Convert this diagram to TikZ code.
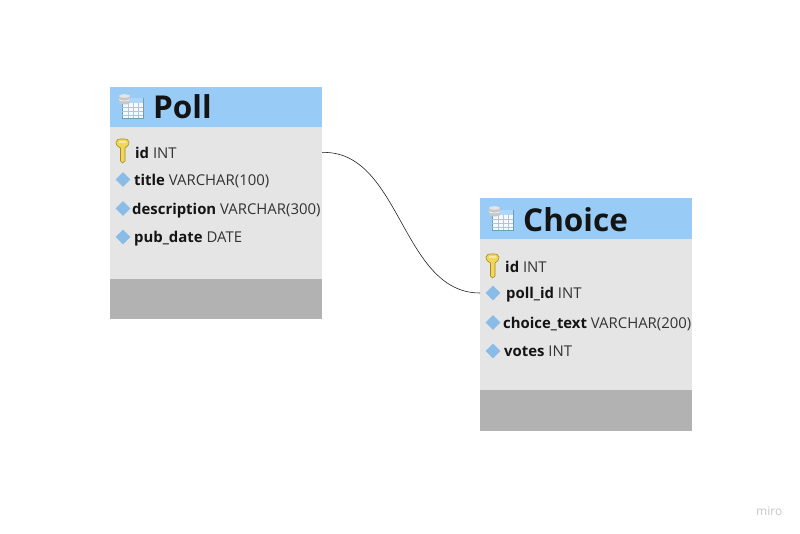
\documentclass[tikz,border=0pt]{standalone}
\usepackage{fontspec}
\setmainfont{Open Sans}
\usetikzlibrary{shapes.geometric}
\definecolor{hdr}{HTML}{98CCF6}
\definecolor{bodyc}{HTML}{E5E5E5}
\definecolor{foot}{HTML}{B2B2B2}
\definecolor{dia}{HTML}{8ABCE8}
\definecolor{ink}{HTML}{141414}
\definecolor{ink2}{HTML}{333333}
\definecolor{keyfill}{HTML}{F0D75A}
\definecolor{keyedge}{HTML}{A88A20}
\definecolor{gridc}{HTML}{A8C8DC}
\definecolor{iconedge}{HTML}{6F9DB8}
\newcommand{\rowtext}[2]{{\bfseries #1} {\color{ink2}#2}}
\tikzset{
  x=1pt,y=-1pt,
  band/.style={draw=none,inner sep=0pt,outer sep=0pt,minimum width=212pt,anchor=north west},
  titletext/.style={anchor=base west,inner sep=0pt,font=\bfseries\fontsize{31.5}{31.5}\selectfont,text=ink},
  rowlabel/.style={anchor=base west,inner sep=0pt,font=\fontsize{14.9}{14.9}\selectfont,text=ink},
  marker/.style={diamond,fill=dia,draw=none,inner sep=0pt,minimum width=15pt,minimum height=15pt},
  wire/.style={draw=ink,line width=0.55pt},
  brand/.style={anchor=base west,inner sep=0pt,font=\fontsize{12}{12}\selectfont,text=black!22},
  pics/tableicon/.style={code={
    \fill[white!90!hdr,draw=iconedge,line width=0.7pt] (3,5) rectangle (24,25);
    \fill[hdr!80!white] (3,5) rectangle (24,10);
    \foreach \gx in {9,14,19}{\draw[gridc,line width=0.6pt] (\gx,10) -- (\gx,25);}
    \foreach \gy in {14,18,22}{\draw[gridc,line width=0.6pt] (3,\gy) -- (24,\gy);}
    \fill[black!22] (0,3) rectangle (11,10);
    \fill[black!22] (5.5,10) ellipse (5.5 and 1.5);
    \fill[black!10] (5.5,3) ellipse (5.5 and 1.8);
    \draw[white,line width=0.5pt] (0,6.5) arc[start angle=180,end angle=360,x radius=5.5,y radius=-1.5];
  }},
  pics/keyicon/.style={code={
    \fill[keyfill,draw=keyedge,line width=0.6pt]
      (0,3) .. controls (0,0) and (3,0) .. (6.5,0) .. controls (10,0) and (13,0) .. (13,3)
      .. controls (13,7) and (10,8) .. (9,9) -- (9,22) -- (6.5,24) -- (4.5,22) -- (4.5,9)
      .. controls (3,8) and (0,7) .. (0,3) -- cycle;
    \fill[keyfill!55!white] (3,1.8) rectangle (10,4.2);
  }}
}
\begin{document}
\begin{tikzpicture}
\useasboundingbox (0,0) rectangle (800,533);
\fill[white] (0,0) rectangle (800,533);

% Poll table
\node[band,fill=hdr,minimum height=40pt] (pollhead) at (110,87) {};
\node[band,fill=bodyc,minimum height=152pt] (pollbody) at (110,127) {};
\node[band,fill=foot,minimum height=40pt] (pollfoot) at (110,279) {};
\pic at (119,93) {tableicon};
\node[titletext] (polltitle) at (153,118) {Poll};
\pic at (116,139) {keyicon};
\node[rowlabel] (pollid) at (135,158) {\rowtext{id}{INT}};
\node[marker] (md1) at (123,179.5) {};
\node[rowlabel] (polltitlerow) at (134,185) {\rowtext{title}{VARCHAR(100)}};
\node[marker] (md2) at (123,208.5) {};
\node[rowlabel] (polldesc) at (132,214) {\rowtext{description}{VARCHAR(300)}};
\node[marker] (md3) at (123,237) {};
\node[rowlabel] (pollpub) at (134,242) {\rowtext{pub\_date}{DATE}};

% Choice table
\node[band,fill=hdr,minimum height=41pt] (choicehead) at (480,198) {};
\node[band,fill=bodyc,minimum height=151pt] (choicebody) at (480,239) {};
\node[band,fill=foot,minimum height=41pt] (choicefoot) at (480,390) {};
\pic at (489,205) {tableicon};
\node[titletext] (choicetitle) at (523,231) {Choice};
\pic at (486,254) {keyicon};
\node[rowlabel] (choiceid) at (505,272) {\rowtext{id}{INT}};
\node[marker] (mc1) at (493,293) {};
\node[rowlabel] (choicepoll) at (506,298) {\rowtext{poll\_id}{INT}};
\node[marker] (mc2) at (493,322.5) {};
\node[rowlabel] (choicetext) at (503,328) {\rowtext{choice\_text}{VARCHAR(200)}};
\node[marker] (mc3) at (493,351) {};
\node[rowlabel] (choicevotes) at (504,356) {\rowtext{votes}{INT}};

% Connector
\coordinate (wirea) at (pollbody.north east |- pollid.west);
\coordinate (wireb) at (choicebody.north west |- mc1);
\draw[wire] (wirea) .. controls (401,150) and (401,293) .. (wireb);

\node[brand] (miro) at (756,515) {miro};
\end{tikzpicture}
\end{document}
